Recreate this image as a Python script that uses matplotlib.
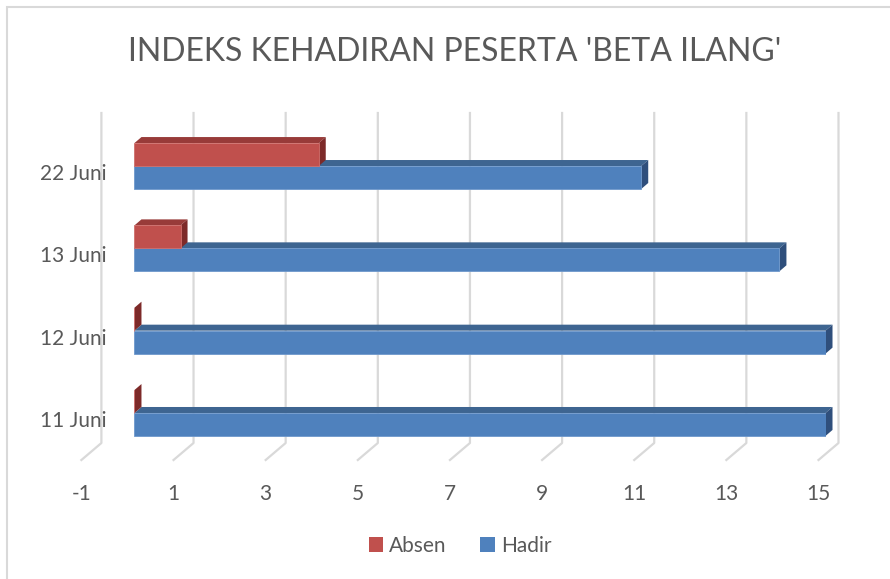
import matplotlib
matplotlib.use("Agg")
import matplotlib.pyplot as plt
from matplotlib.patches import Polygon, Rectangle, Patch
from matplotlib.lines import Line2D
from matplotlib.transforms import ScaledTranslation, IdentityTransform

categories = ["11 Juni", "12 Juni", "13 Juni", "22 Juni"]
hadir = [15, 15, 14, 11]
absen = [0, 0, 1, 4]
x_ticks = [-1, 1, 3, 5, 7, 9, 11, 13, 15]

plt.rcParams["font.family"] = ["Lato", "DejaVu Sans"]
txt = "#595959"
grid_c = "#D9D9D9"
blue = ("#4F81BD", "#3E6591", "#2F4F7C")   # front, top, side
red = ("#C0504D", "#983B39", "#7D2A29")

W, H = 890, 579
fig = plt.figure(figsize=(W / 100, H / 100), dpi=100)

# axes set in pixels (top-based)
left, right, top, bottom = 88.4, 825.5, 113, 460
ax = fig.add_axes([left / W, 1 - bottom / H, (right - left) / W, (bottom - top) / H])
ax.set_xlim(-1, 15)
ax.set_ylim(-0.571, 3.644)
for s in ax.spines.values():
    s.set_visible(False)

h = 0.279
dx, dy = 7, 6  # depth offset in pixels

ypos = list(range(len(categories)))


def to_px(x, y):
    return ax.transData.transform((x, y))


# back gridlines + floor diagonals
for v in x_ticks:
    xf = to_px(v, 0)[0]
    xs = [xf + 13, xf + 13, xf - 7]
    ys = [H - top, H - 443, H - bottom]
    ax.add_line(Line2D(xs, ys, transform=IdentityTransform(), color=grid_c,
                       lw=1.6, zorder=1, clip_on=False))


def bar3d(bars, cols, z):
    for b in bars:
        x0, y0 = b.get_x(), b.get_y()
        x1, y1 = x0 + b.get_width(), y0 + b.get_height()
        (ax0, ay0), (ax1, ay1) = to_px(x0, y0), to_px(x1, y1)
        top_face = [(ax0, ay1), (ax1, ay1), (ax1 + dx, ay1 + dy), (ax0 + dx, ay1 + dy)]
        side_face = [(ax1, ay0), (ax1, ay1), (ax1 + dx, ay1 + dy), (ax1 + dx, ay0 + dy)]
        ax.add_patch(Polygon(top_face, closed=True, transform=IdentityTransform(),
                             fc=cols[1], ec="none", zorder=z, clip_on=False))
        ax.add_patch(Polygon(side_face, closed=True, transform=IdentityTransform(),
                             fc=cols[2], ec="none", zorder=z, clip_on=False))
        b.set_zorder(z + 1)


hb = ax.barh([y - h / 2 for y in ypos], hadir, height=h, color=blue[0],
             edgecolor="#6E98CC", linewidth=0.6)
ab = ax.barh([y + h / 2 for y in ypos], absen, height=h, color=red[0],
             edgecolor="#CF6F6C", linewidth=0.6)
bar3d(hb, blue, 2)
bar3d(ab, red, 4)

ax.set_yticks(ypos)
ax.set_yticklabels(categories)
ax.set_xticks(x_ticks)
ax.set_xticklabels([str(v) for v in x_ticks])
ax.tick_params(axis="both", length=0, labelsize=15, colors=txt)
ax.tick_params(axis="y", pad=0)
ax.tick_params(axis="x", pad=17)
ax.grid(False)

yoff = ScaledTranslation(18 / 100, -6 / 100, fig.dpi_scale_trans)
for lab in ax.get_yticklabels():
    lab.set_transform(lab.get_transform() + yoff)
xoff = ScaledTranslation(-7 / 100, 0, fig.dpi_scale_trans)
for lab in ax.get_xticklabels():
    lab.set_transform(lab.get_transform() + xoff)

fig.text(455 / W, 1 - 52 / H, "INDEKS KEHADIRAN PESERTA 'BETA ILANG'",
         ha="center", va="center", fontsize=23, color=txt)

handles = [Patch(facecolor=red[0], label="Absen"), Patch(facecolor=blue[0], label="Hadir")]
fig.legend(handles=handles, loc="center", bbox_to_anchor=(460 / W, 1 - 546 / H),
           ncol=2, frameon=False, fontsize=15, labelcolor=txt,
           handlelength=0.7, handleheight=0.7, handletextpad=0.3, columnspacing=1.6)

fig.patches.append(Rectangle((7 / W, -0.1), 1.2, 1.1 - 7 / H, transform=fig.transFigure,
                             fill=False, ec=grid_c, lw=1.5))

fig.savefig("out.png", dpi=100)
